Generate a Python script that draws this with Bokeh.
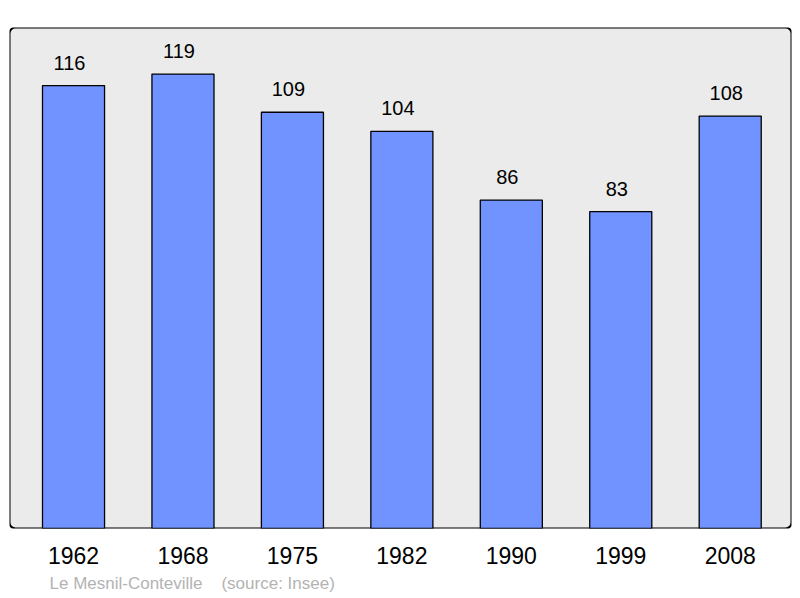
from bokeh.plotting import figure
from bokeh.models import Range1d, FixedTicker, BoxAnnotation, ColumnDataSource, Title
from bokeh.core.properties import value
from bokeh.embed import file_html
from bokeh.resources import INLINE

years = ["1962", "1968", "1975", "1982", "1990", "1999", "2008"]
population = [116, 119, 109, 104, 86, 83, 108]
footer = "Le Mesnil-Conteville\u00a0\u00a0\u00a0\u00a0(source: Insee)"

xs = list(range(len(years)))
src = ColumnDataSource(dict(x=xs, y=population, label=[str(v) for v in population]))

FONT = "Liberation Sans"

p = figure(frame_width=782, frame_height=501, output_backend="svg", toolbar_location=None,
           x_range=Range1d(-0.585, 6.56), y_range=Range1d(0, 131.2),
           min_border_left=9, min_border_right=1, min_border_top=27, min_border_bottom=0)
p.background_fill_color = None
p.border_fill_color = "white"
p.outline_line_color = None
p.grid.visible = False
p.yaxis.visible = False

panel = BoxAnnotation(fill_color="#ebebeb", fill_alpha=1.0, line_color="black", line_width=2,
                      line_alpha=1.0, border_radius=6, level="underlay")
p.add_layout(panel)

p.vbar(x="x", top="y", bottom=0, width=0.567, source=src, fill_color="#7093ff",
       line_color="black", line_width=1.3)
p.text(x="x", y="y", text="label", source=src, text_align="center", text_baseline="alphabetic",
       x_offset=-4, y_offset=-23, text_font=value(FONT), text_font_size="20px", text_color="black")

ax = p.xaxis[0]
ax.ticker = FixedTicker(ticks=xs)
ax.major_label_overrides = {i: y for i, y in zip(xs, years)}
ax.axis_line_color = None
ax.major_tick_line_color = None
ax.minor_tick_line_color = None
ax.major_tick_out = 0
ax.major_label_standoff = 18
ax.major_label_text_font = FONT
ax.major_label_text_font_size = "23px"
ax.major_label_text_color = "black"

t = Title(text=footer, align="left", offset=40, text_font=FONT, text_font_size="17px",
          text_font_style="normal", text_color="#b3b3b3", standoff=10)
p.add_layout(t, "below")

open("out.html", "w").write(file_html(p, INLINE))
